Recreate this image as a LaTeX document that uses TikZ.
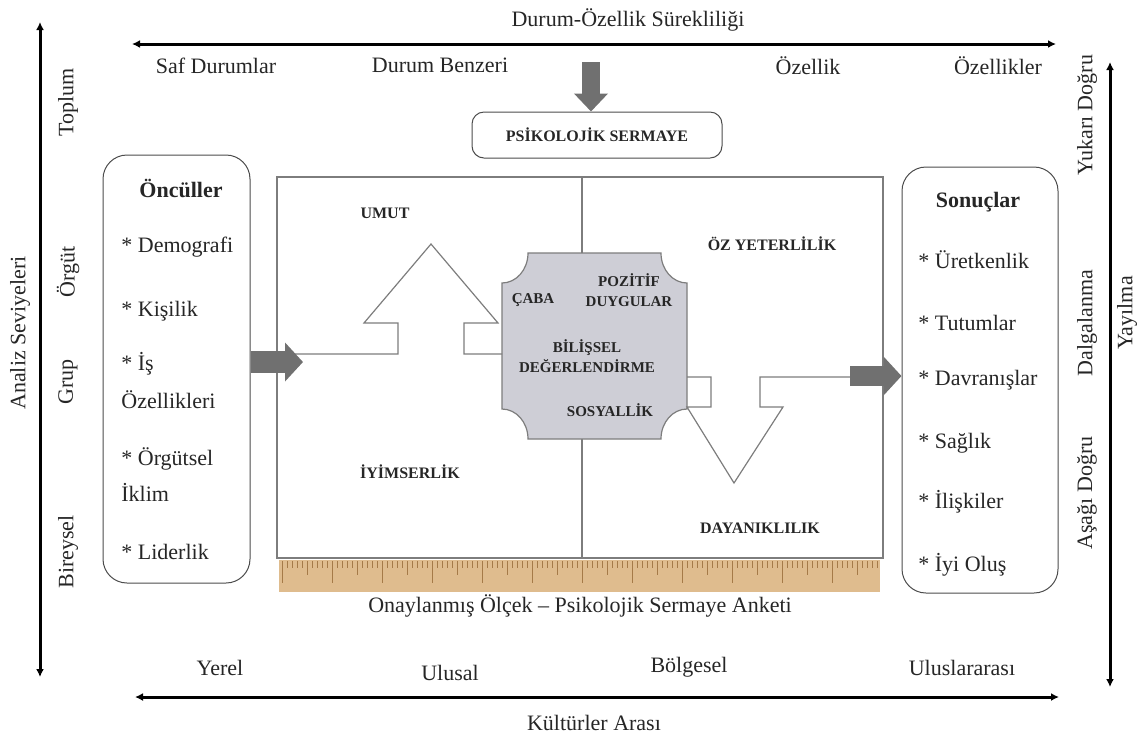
\documentclass[tikz,border=0pt]{standalone}
\usepackage{fontspec}
\setmainfont{Liberation Serif}
\usetikzlibrary{arrows.meta, positioning, shapes}
\definecolor{arrowgray}{RGB}{112,112,112}
\definecolor{coregray}{RGB}{206,206,214}
\definecolor{framegray}{RGB}{125,125,125}
\definecolor{rulertan}{RGB}{223,188,142}
\definecolor{tickbrown}{RGB}{165,122,72}
\definecolor{inkgray}{RGB}{38,38,38}

\begin{document}
\begin{tikzpicture}[x=0.5pt, y=-0.5pt, font=\fontsize{11}{13}\selectfont, text=inkgray]
\tikzstyle{panel} = [rectangle, draw=black!70, rounded corners=12pt, line width=0.5pt]
\tikzstyle{item} = [anchor=west, inner sep=0pt]
\tikzstyle{caps} = [font=\fontsize{8}{9.5}\selectfont\bfseries, inner sep=0pt, align=center]
\tikzstyle{heading} = [font=\fontsize{11}{13}\selectfont\bfseries, inner sep=0pt]
\tikzstyle{axis} = [draw=black, line width=1.5pt, {Latex[length=4pt,width=4pt]}-{Latex[length=4pt,width=4pt]}]
\tikzstyle{fat} = [draw=arrowgray, -{Triangle[length=9pt,width=19pt]}]
\tikzstyle{guide} = [draw=framegray, line width=0.6pt]
\tikzstyle{side} = [rotate=90, inner sep=0pt]

    \useasboundingbox (0,0) rectangle (1147,736);

    % Axes
    \coordinate (stateleft) at (132,44);
    \coordinate (stateright) at (1056,44);
    \coordinate (cultleft) at (135,697);
    \coordinate (cultright) at (1059,697);
    \coordinate (leveltop) at (40,22);
    \coordinate (levelbottom) at (40,677);
    \coordinate (spreadtop) at (1110,62);
    \coordinate (spreadbottom) at (1110,687);
    \path [axis] (stateleft) -- (stateright);
    \path [axis] (cultleft) -- (cultright);
    \path [axis] (leveltop) -- (levelbottom);
    \path [axis] (spreadtop) -- (spreadbottom);

    \node [inner sep=0pt] (statetitle) at (628,20) {Durum-Özellik Sürekliliği};
    \node [inner sep=0pt] (pure) at (216,66) {Saf Durumlar};
    \node [inner sep=0pt] (statelike) at (440,65) {Durum Benzeri};
    \node [inner sep=0pt] (traitlike) at (808,66) {Özellik};
    \node [inner sep=0pt] (traits) at (998,66) {Özellikler};

    \node [inner sep=0pt] (local) at (220,668) {Yerel};
    \node [inner sep=0pt] (national) at (450,673) {Ulusal};
    \node [inner sep=0pt] (regional) at (689,667) {Bölgesel};
    \node [inner sep=0pt] (international) at (962,668) {Uluslararası};
    \node [inner sep=0pt] (crosscult) at (594,723) {Kültürler Arası};

    \node [side] (levels) at (20,333) {Analiz Seviyeleri};
    \node [side] (society) at (68,102) {Toplum};
    \node [side] (organization) at (68,272) {Örgüt};
    \node [side] (group) at (68,382) {Grup};
    \node [side] (individual) at (68,552) {Bireysel};

    \node [side] (upward) at (1087,115) {Yukarı Doğru};
    \node [side] (ripple) at (1087,323) {Dalgalanma};
    \node [side] (downward) at (1087,493) {Aşağı Doğru};
    \node [side] (spread) at (1127,313) {Yayılma};

    % Place nodes
    \node [panel, rounded corners=6pt, minimum width=125pt, minimum height=23pt] (psycap) at (597,135) {};
    \node [caps] (psycaptext) at (psycap) {PSİKOLOJİK SERMAYE};

    \node [panel, minimum width=73.5pt, minimum height=214pt] (antecedents) at (176.5,369) {};
    \node [heading] (antetitle) at (181,188) {Öncüller};
    \foreach \y/\t [count=\n] in {247/* Demografi, 311/* Kişilik, 364/* İş, 400/Özellikleri,
        459/* Örgütsel, 492/İklim, 552/* Liderlik}
        \node [item] (ante\n) at (121,\y) {\t};

    \node [panel, minimum width=78pt, minimum height=213pt] (outcomes) at (980,380) {};
    \node [heading] (outtitle) at (978,202) {Sonuçlar};
    \foreach \y/\t [count=\n] in {260/* Üretkenlik, 323/* Tutumlar, 380/* Davranışlar,
        443/* Sağlık, 502/* İlişkiler, 565/* İyi Oluş}
        \node [item] (out\n) at (918,\y) {\t};

    \node [guide, draw, minimum width=303pt, minimum height=190.5pt, inner sep=0pt] (frame) at (580,367.5) {};
    \path [guide] ([xshift=1pt]frame.north) -- ([xshift=1pt]frame.south);

    % ruler
    \node [fill=rulertan, minimum width=300.5pt, minimum height=16pt, inner sep=0pt] (ruler) at (579.5,576) {};
    \foreach \i in {0,...,119} {
        \pgfmathsetmacro\tx{282+5*\i}
        \pgfmathsetmacro\tl{ifthenelse(mod(\i,10)==0,583,ifthenelse(mod(\i,5)==0,575,568))}
        \draw [tickbrown, line width=0.4pt] (\tx,561) -- (\tx,\tl);
    }
    \node [inner sep=0pt] (scale) at (580,606) {Onaylanmış Ölçek – Psikolojik Sermaye Anketi};

    % core with hollow corners
    \node [minimum width=92.5pt, minimum height=93pt, inner sep=0pt] (core) at (594.5,346) {};
    \fill [coregray, draw=framegray, line width=0.6pt]
        (528,253) -- (661,253) .. controls (661,270) and (673,283) .. (687,283)
        -- (687,409) .. controls (673,409) and (661,422) .. (661,439)
        -- (528,439) .. controls (528,422) and (516,409) .. (502,409)
        -- (502,283) .. controls (516,283) and (528,270) .. (528,253) -- cycle;

    % hope arrow (up) and resilience arrow (down)
    \coordinate (hopein) at (277,354);
    \coordinate (resout) at (883,377);
    \path [guide] (hopein) -- (398,354) -- (398,323) -- (364,323) -- (431,244) -- (498,323)
        -- (464,323) -- (464,354) -- (502,354);
    \path [guide] (687,377) -- (711,377) -- (711,407) -- (687,407) -- (734,483) -- (783,407)
        -- (760,407) -- (760,377) -- (resout);

    \node [caps] (hope) at (385,213) {UMUT};
    \node [caps] (efficacy) at (772,244) {ÖZ YETERLİLİK};
    \node [caps] (optimism) at (410,472) {İYİMSERLİK};
    \node [caps] (resilience) at (760,528) {DAYANIKLILIK};

    \node [caps, font=\fontsize{7.5}{9}\selectfont\bfseries] (effort) at (533,300) {ÇABA};
    \node [caps, font=\fontsize{7.5}{9}\selectfont\bfseries, align=center] (emotion) at (629,290) {POZİTİF\\[1pt]DUYGULAR};
    \node [caps, font=\fontsize{7.5}{9}\selectfont\bfseries, align=center] (appraisal) at (587,356) {BİLİŞSEL\\[1pt]DEĞERLENDİRME};
    \node [caps, font=\fontsize{7.5}{9}\selectfont\bfseries] (social) at (610,410) {SOSYALLİK};

    %paths
    \coordinate (feed) at (591,62);
    \coordinate (inlet) at (303,362);
    \coordinate (outlet) at (850,376);
    \path [fat, line width=9pt, -{Triangle[length=9pt,width=16.5pt]}] (feed) -- (feed |- psycap.north);
    \path [fat, line width=11pt] (antecedents.east |- inlet) -- (inlet);
    \path [fat, line width=10pt] (outlet) -- (outlet -| outcomes.west);

\end{tikzpicture}
\end{document}
